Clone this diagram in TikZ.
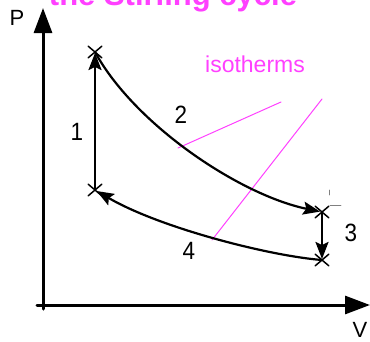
\documentclass[tikz,border=0pt]{standalone}
\usepackage{fontspec}
\setmainfont{Liberation Sans}
\usetikzlibrary{arrows.meta,shapes.misc}
\definecolor{isomag}{RGB}{255,64,255}

\begin{document}
\begin{tikzpicture}[x=1pt, y=-1pt, line join=round, line cap=round,
    >={Stealth[length=17pt,width=13pt,inset=3pt]},
    axis/.style={line width=3pt, -{Triangle[length=25pt,width=18pt]}},
    stroke/.style={line width=2.2pt},
    isoline/.style={isomag, line width=1pt},
    xmark/.style={cross out, draw, line width=1.5pt, minimum width=12pt, minimum height=10pt, inner sep=0pt},
    lbl/.style={font=\fontsize{25}{30}\selectfont, xscale=0.9}]
    \useasboundingbox (0,0) rectangle (370,341);
    \path
    (43,309) coordinate (O1)
    (43,8) coordinate (Ptip)
    (37,305) coordinate (O2)
    (370,305) coordinate (Vtip)
    (95,52) coordinate (A)
    (95,190) coordinate (B)
    (322,212) coordinate (C)
    (322,260) coordinate (D)
    (178,148) coordinate (I1)
    (281,102) coordinate (J1)
    (212,240) coordinate (I2)
    (322,99) coordinate (J2)
    ;
    % title, cut at the top edge
    \begin{scope}
        \clip (0,0) rectangle (370,341);
        \node[anchor=base, text=isomag, font=\fontsize{31}{37}\selectfont\bfseries] (title) at (173,5) {the Stirling cycle};
    \end{scope}

    % axes
    \draw[axis] (O1) -- (Ptip);
    \draw[axis] (O2) -- (Vtip);
    \node[font=\fontsize{22}{26}\selectfont] (P) at (17,17.5) {P};
    \node[font=\fontsize{22}{26}\selectfont] (V) at (360,330) {V};

    % isotherms
    \draw[isoline] (I1) -- (J1);
    \draw[isoline] (I2) -- (J2);
    \node[text=isomag, anchor=base, font=\fontsize{23}{27}\selectfont] (iso) at (255,72) {isotherms};

    % the cycle
    \draw[stroke, ->, shorten >=1pt] (B) -- (A);
    \draw[stroke, ->, shorten >=2pt] (A) .. controls (135,125) and (240,195) .. (C);
    \draw[stroke, ->, shorten >=1pt] (C) -- (D);
    \draw[stroke, ->, shorten >=2pt] (D) .. controls (270,256) and (160,228) .. (B);
    \foreach \p in {A,B,C,D}{
        \node[xmark] (m\p) at (\p) {};
    }
    \draw[gray, line width=0.8pt] (329,190) -- (329,195);
    \draw[gray, line width=0.8pt] (330,205) -- (341,205);

    \node[lbl] (n1) at (77,132) {1};
    \node[lbl] (n2) at (181,115) {2};
    \node[lbl] (n3) at (351,233) {3};
    \node[lbl] (n4) at (189,251) {4};
\end{tikzpicture}
\end{document}
